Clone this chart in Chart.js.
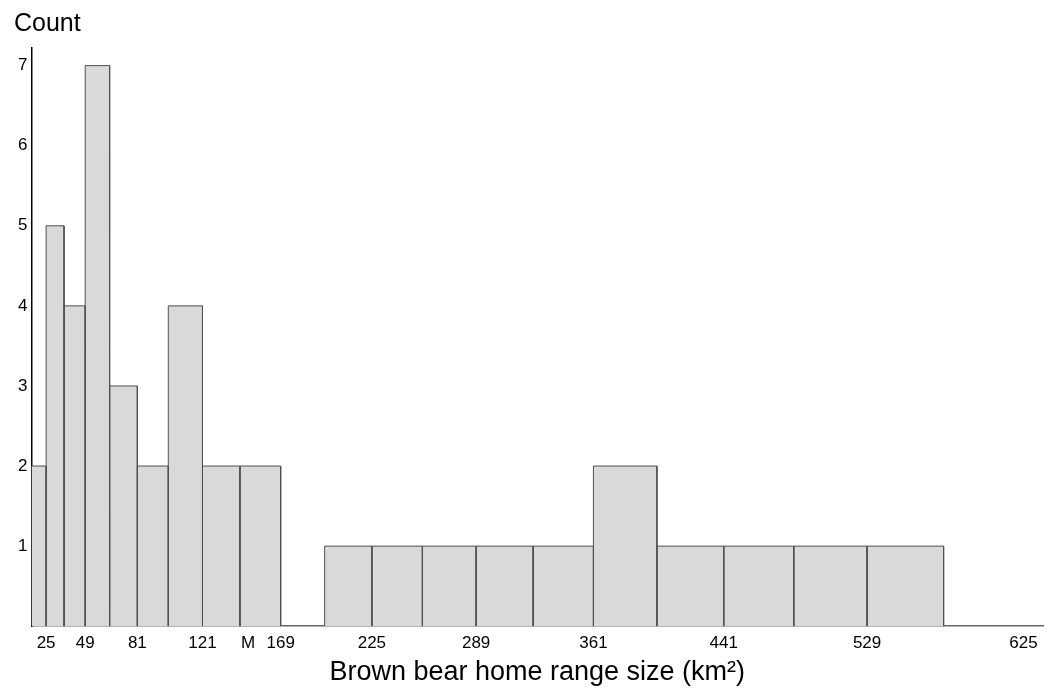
<!DOCTYPE html>
<html>
<head>
<meta charset="utf-8">
<script src="https://cdn.jsdelivr.net/npm/chart.js@4"></script>
<style>
  html, body { margin: 0; padding: 0; background: #fff; }
  #wrap { width: 1058px; height: 688px; }
</style>
</head>
<body>
<div id="wrap"><canvas id="chart_hist"></canvas></div>
<script>
// bin edges are squares (16 = 4^2 ... 625 = 25^2), counts per bin
const binEdges = [16, 25, 36, 49, 64, 81, 100, 121, 144, 169, 196, 225, 256, 289, 324, 361, 400, 441, 484, 529, 576, 625];
const binCounts = [2, 5, 4, 7, 3, 2, 4, 2, 2, 0, 1, 1, 1, 1, 1, 2, 1, 1, 1, 1, 0];
const xTickValues = [25, 49, 81, 121, 149, 169, 225, 289, 361, 441, 529, 625];
const xTickLabels = ["25", "49", "81", "121", "M", "169", "225", "289", "361", "441", "529", "625"];
const yTickValues = [1, 2, 3, 4, 5, 6, 7];
const xMin = 16;
const xMax = 637;
const yMax = 7.22;

const font_family = "'Liberation Sans', Arial, sans-serif";

// one outlined, filled polygon per non-empty bin
const datasets = [];
for (let i = 0; i < binCounts.length; i++) {
  if (binCounts[i] == 0) continue;
  const lo = binEdges[i];
  const hi = binEdges[i + 1];
  datasets.push({
    data: [
      { x: lo, y: 0 },
      { x: lo, y: binCounts[i] },
      { x: hi, y: binCounts[i] },
      { x: hi, y: 0 },
    ],
    showLine: true,
    fill: "origin",
    backgroundColor: "#d9d9d9",
    borderColor: "#505050",
    borderWidth: 1,
    pointRadius: 0,
    tension: 0,
  });
}

// "Count" label sits above the y axis, horizontal
const countLabel = {
  id: "countLabel",
  afterDraw(chart) {
    const ctx = chart.ctx;
    ctx.save();
    ctx.font = "25px " + font_family;
    ctx.fillStyle = "#000";
    ctx.textAlign = "left";
    ctx.textBaseline = "alphabetic";
    ctx.fillText("Count", 14, 31);
    ctx.restore();
  },
};

const chart_hist_object = new Chart(document.getElementById("chart_hist").getContext("2d"), {
  type: "scatter",
  data: { datasets: datasets },
  plugins: [countLabel],
  options: {
    responsive: true,
    maintainAspectRatio: false,
    animation: false,
    layout: { padding: { left: 14, right: 15, top: 48, bottom: 2 } },
    plugins: {
      legend: { display: false },
      tooltip: { enabled: false },
      filler: { drawTime: "beforeDatasetsDraw" },
    },
    scales: {
      x: {
        type: "linear",
        min: xMin,
        max: xMax,
        grid: { display: false, drawTicks: false },
        border: { display: true, color: "#666", width: 1.5 },
        afterBuildTicks: (axis) => {
          axis.ticks = xTickValues.map((v) => ({ value: v }));
        },
        ticks: {
          autoSkip: false,
          maxRotation: 0,
          padding: 7,
          color: "#000",
          font: { family: font_family, size: 17 },
          callback: (value) => xTickLabels[xTickValues.indexOf(value)],
        },
        title: {
          display: true,
          text: "Brown bear home range size (km²)",
          color: "#000",
          font: { family: font_family, size: 27 },
          padding: { top: -4, bottom: -3 },
        },
      },
      y: {
        min: 0,
        max: yMax,
        grid: { display: false, drawTicks: false },
        border: { display: true, color: "#000", width: 1.5 },
        afterBuildTicks: (axis) => {
          axis.ticks = yTickValues.map((v) => ({ value: v }));
        },
        ticks: {
          padding: 4,
          color: "#000",
          font: { family: font_family, size: 17 },
        },
      },
    },
  },
});
</script>
</body>
</html>
